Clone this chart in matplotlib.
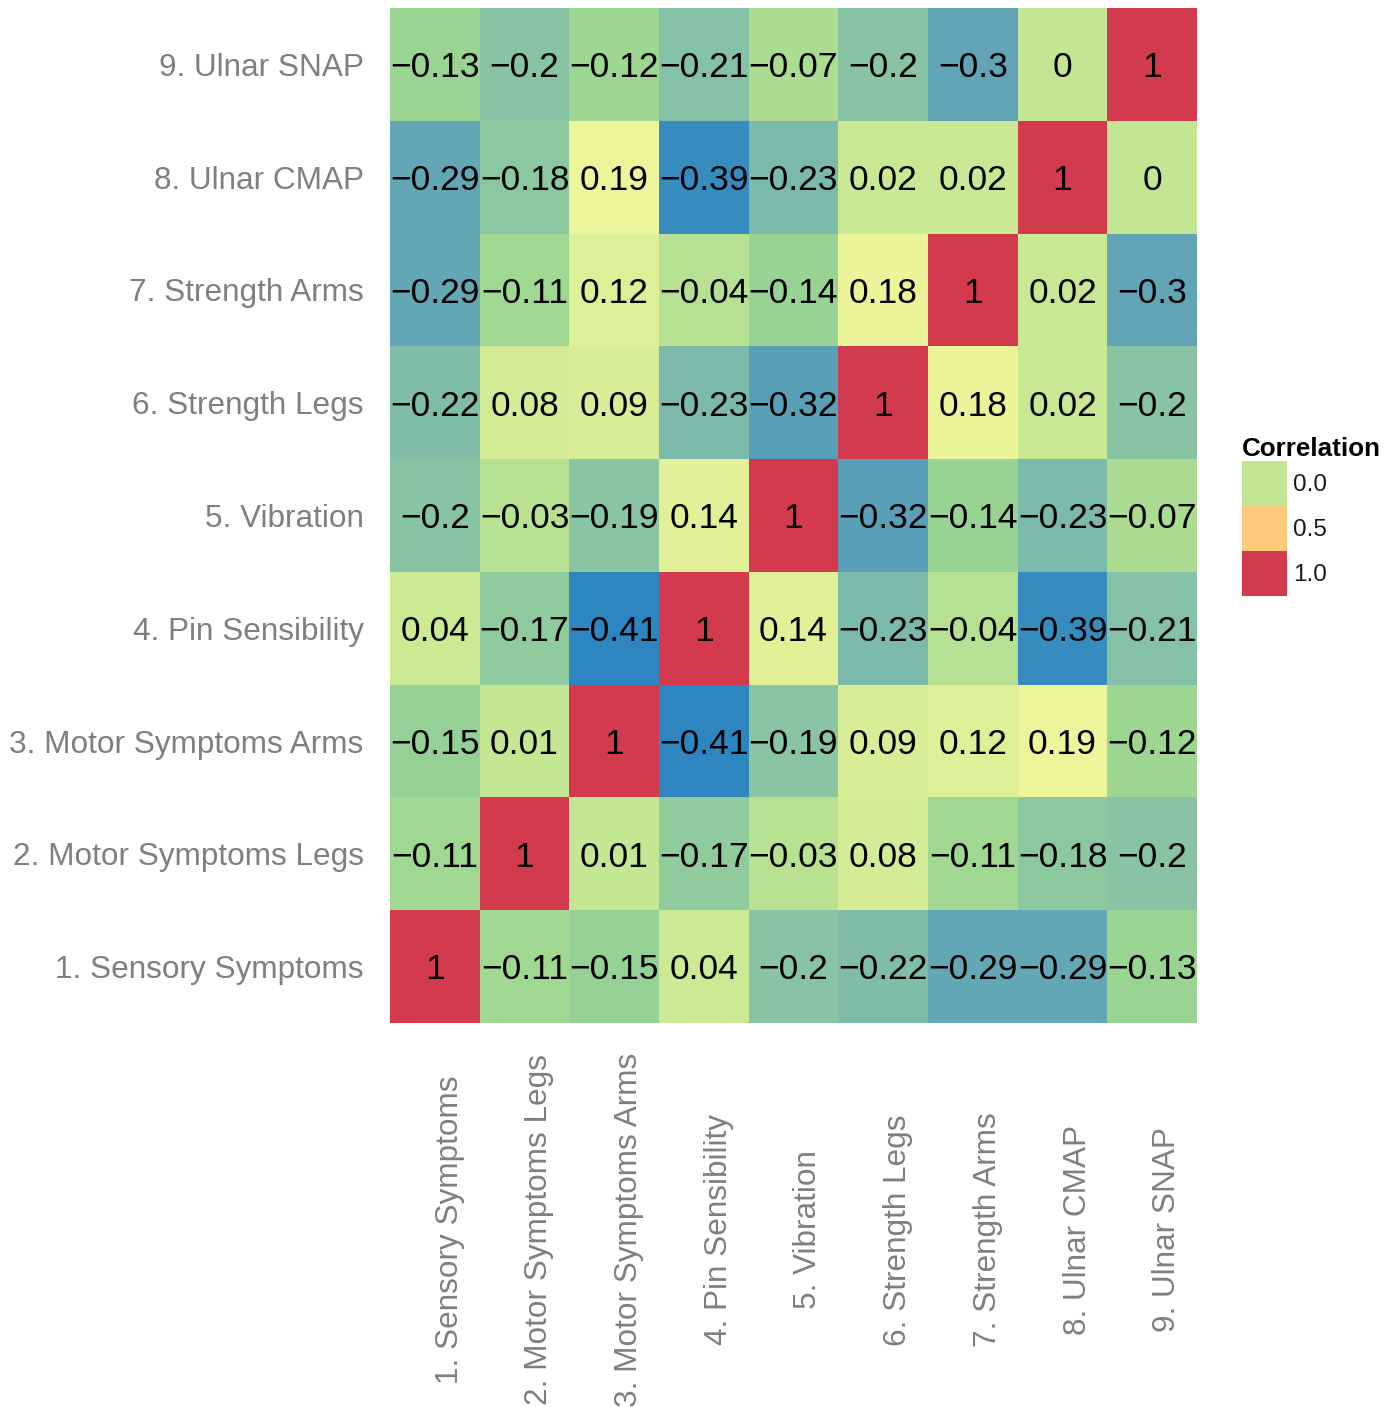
import numpy as np
import matplotlib
matplotlib.use("Agg")
import matplotlib.pyplot as plt
from matplotlib.colors import LinearSegmentedColormap, Normalize
from matplotlib.patches import Patch

plt.rcParams['font.family'] = ['Liberation Sans', 'DejaVu Sans']

# Variables (row/column order, bottom to top / left to right)
variables = [
    "1. Sensory Symptoms",
    "2. Motor Symptoms Legs",
    "3. Motor Symptoms Arms",
    "4. Pin Sensibility",
    "5. Vibration",
    "6. Strength Legs",
    "7. Strength Arms",
    "8. Ulnar CMAP",
    "9. Ulnar SNAP",
]

# Correlation matrix (row = y variable, col = x variable)
corr = np.array([
    [1, -0.11, -0.15, 0.04, -0.2, -0.22, -0.29, -0.29, -0.13],
    [-0.11, 1, 0.01, -0.17, -0.03, 0.08, -0.11, -0.18, -0.2],
    [-0.15, 0.01, 1, -0.41, -0.19, 0.09, 0.12, 0.19, -0.12],
    [0.04, -0.17, -0.41, 1, 0.14, -0.23, -0.04, -0.39, -0.21],
    [-0.2, -0.03, -0.19, 0.14, 1, -0.32, -0.14, -0.23, -0.07],
    [-0.22, 0.08, 0.09, -0.23, -0.32, 1, 0.18, 0.02, -0.2],
    [-0.29, -0.11, 0.12, -0.04, -0.14, 0.18, 1, 0.02, -0.3],
    [-0.29, -0.18, 0.19, -0.39, -0.23, 0.02, 0.02, 1, 0],
    [-0.13, -0.2, -0.12, -0.21, -0.07, -0.2, -0.3, 0, 1],
])

legend_breaks = [0.0, 0.5, 1.0]
legend_labels = ["0.0", "0.5", "1.0"]

# colour scale
vmin, vmax = -0.41, 1.0
anchors = [(-0.41, "#2e86c1"), (-0.30, "#62a5b5"), (-0.20, "#88c4a4"),
           (-0.13, "#9ad591"), (0.0, "#c3e693"), (0.19, "#eef59a"),
           (0.5, "#fdcb7c"), (1.0, "#d43a4e")]
cmap = LinearSegmentedColormap.from_list(
    "corr", [((v - vmin) / (vmax - vmin), c) for v, c in anchors])
norm = Normalize(vmin=vmin, vmax=vmax)

W, H = 1399, 1407
fig = plt.figure(figsize=(W / 100, H / 100), dpi=100)
ax = fig.add_axes([390 / W, 1 - 1023 / H, (1197 - 390) / W, (1023 - 8) / H])

n = len(variables)
edges = np.arange(n + 1) - 0.5
ax.pcolormesh(edges, edges, corr, cmap=cmap, norm=norm)

def fmt(v):
    s = f"{v:.2f}".rstrip("0").rstrip(".")
    if s in ("-0", ""):
        s = "0"
    return s.replace("-", "\u2212")

for i in range(n):
    for j in range(n):
        ax.text(j, i - 0.03, fmt(corr[i, j]), ha="center", va="center",
                fontsize=25.5, color="black")

ax.set_xlim(-0.5, n - 0.5)
ax.set_ylim(-0.5, n - 0.5)
ax.set_xticks(range(n))
ax.set_yticks(range(n))
ax.set_xticklabels(variables, rotation=90, va="center", ha="left")
ax.set_yticklabels(variables)
ax.tick_params(axis="both", length=0, labelsize=22.7, labelcolor="#7f7f7f")
ax.tick_params(axis="x", pad=149)
ax.tick_params(axis="y", pad=19)
for s in ax.spines.values():
    s.set_visible(False)

handles = [Patch(facecolor=cmap(norm(b)), edgecolor="none") for b in legend_breaks]
leg = fig.legend(handles, legend_labels, loc="upper left",
                 bbox_to_anchor=(1242 / W, 1 - 437 / H),
                 frameon=False, fontsize=17.5, title="Correlation",
                 title_fontproperties={"weight": "bold", "size": 18.7},
                 handlelength=1.85, handleheight=2.47, labelspacing=0,
                 handletextpad=0.25, borderpad=0, borderaxespad=0,
                 alignment="left")
for t in leg.get_texts():
    t.set_color("#1a1a1a")

fig.savefig("out.png", dpi=100)
